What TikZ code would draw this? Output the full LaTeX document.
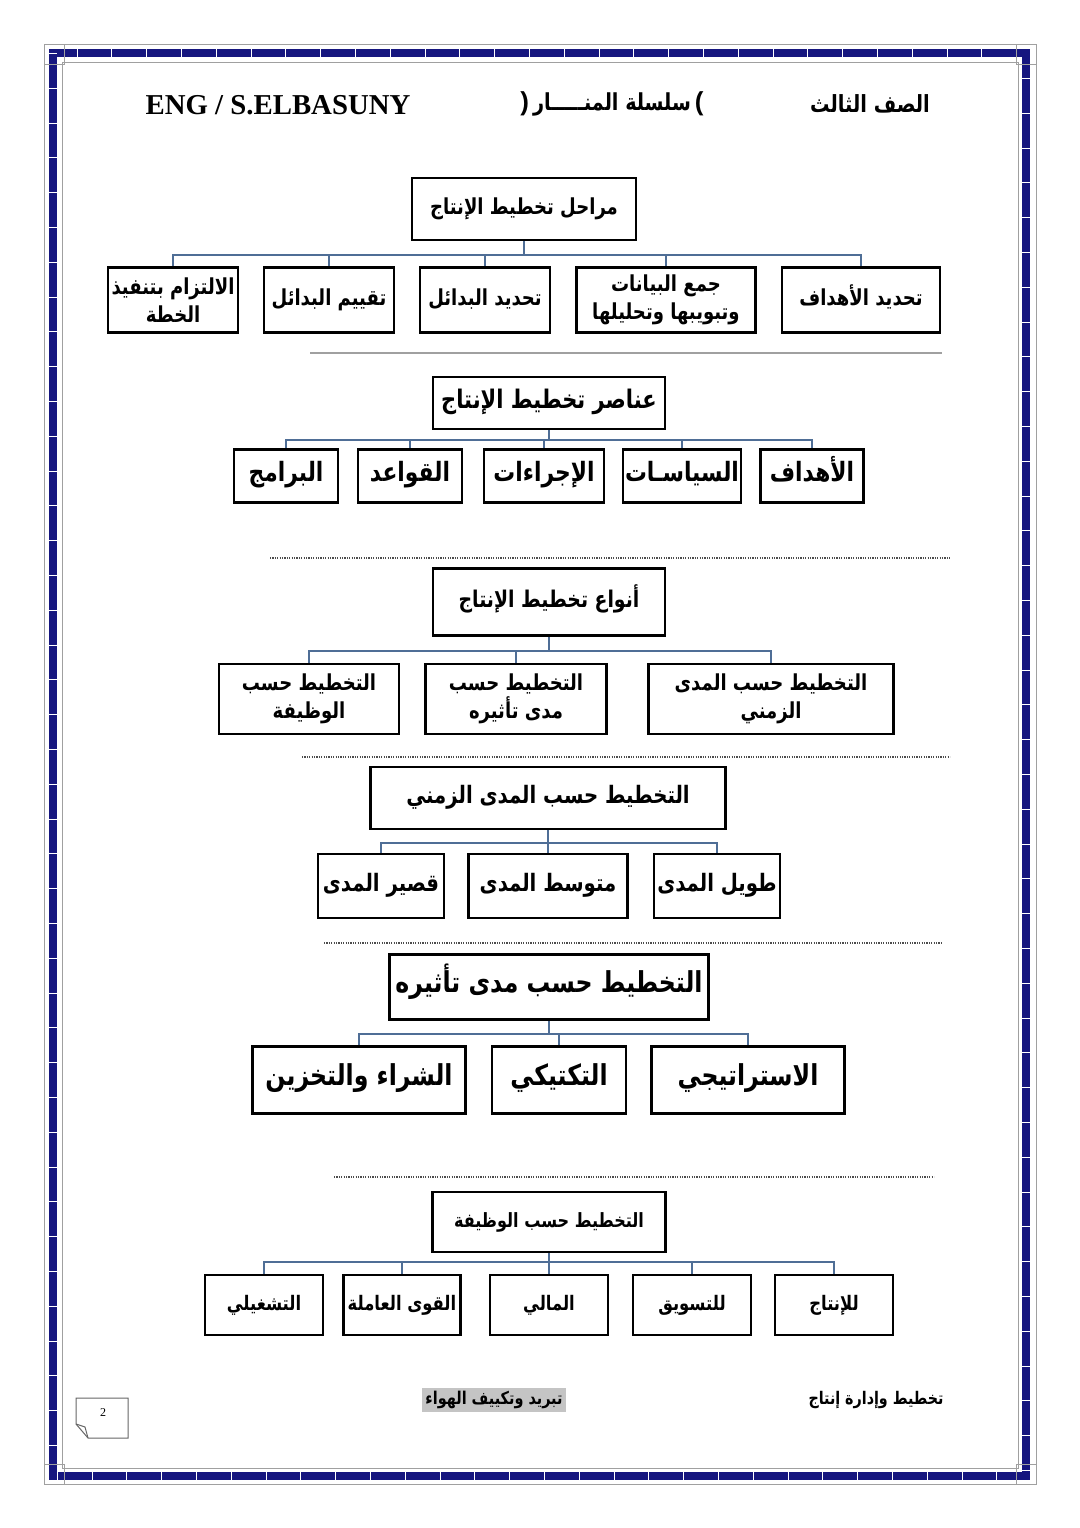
\documentclass[tikz,border=0pt]{standalone}
\usepackage{fontspec}
\setmainfont{Liberation Serif}
\setsansfont{Liberation Sans}
\newfontfamily\arabicfont[Script=Arabic, FakeStretch=0.82]{DejaVu Sans}
\TeXXeTstate=1
\usepackage{tikz}
\usetikzlibrary{positioning}
\definecolor{branch}{HTML}{4F6E96}
\definecolor{navy}  {HTML}{16167F}
\definecolor{rule}  {HTML}{A0A0A0}
\definecolor{shade} {HTML}{C4C4C4}
\newcommand\rtl[1]{\beginR#1\endR}

\begin{document}
\begin{tikzpicture}[
  % One unit is one pixel of the page scan (y runs down), so boxes are placed
  % straight from the page and their sizes are given in the same pixels.
  x=0.5pt, y=-0.5pt,
  sz/.style 2 args={minimum width=#1*0.5pt, minimum height=#2*0.5pt},
  % DejaVu's Arabic is wide next to the scan's face, hence the squeeze above.
  ar/.style={font=\arabicfont\bfseries\fontsize{#1}{1.3\dimexpr #1pt\relax}\selectfont},
  box/.style={draw, line width=1.4pt, fill=white, align=center, inner sep=1pt},
  % single-line boxes get a fixed text height, so a hamza does not push the
  % line down against its neighbours
  one/.style={box, text height=0.75em, text depth=0.25em},
  conn/.style={draw=branch, line width=1.4pt},
  sep/.style={line width=0.6pt, dash pattern=on 0.6pt off 0.6pt, color=black!70}
]
\useasboundingbox (0,0) rectangle (1080,1528);

% page frame
\draw[rule, line width=0.5pt] (44,44) rectangle (1036,1484);
\draw[navy, line width=4pt] (53,53) rectangle (1026,1476);
\draw[white, line width=4pt, dash pattern=on 0.4pt off 17pt] (53,53) rectangle (1026,1476);
\draw[rule, line width=0.5pt] (62,62) rectangle (1018,1468);
\foreach \cx/\cy in {44/44, 1016/44, 44/1464, 1016/1464}
  \draw[rule, line width=0.5pt] (\cx,\cy) rectangle ++(20,20);

% header
\node[font=\bfseries\fontsize{14.4}{16}\selectfont] (eng) at (278,105) {ENG / S.ELBASUNY};
\node[ar=11.7] (series) at (612,104)
  {{\sffamily\bfseries\fontsize{13}{14}\selectfont)}\,\rtl{سلسلة المنـــــار}\,{\sffamily\bfseries\fontsize{13}{14}\selectfont(}};
\node[ar=11.8] (grade) at (870,104) {\rtl{الصف الثالث}};

% stages
\node[one, ar=11, sz={224}{62}] (stg)  at (524,209) {\rtl{مراحل تخطيط الإنتاج}};
\node[box, ar=11, sz={130}{65}] (stg1) at (173,300) {\rtl{الالتزام بتنفيذ}\\\rtl{الخطة}};
\node[one, ar=11, sz={130}{65}] (stg2) at (329,300) {\rtl{تقييم البدائل}};
\node[one, ar=11, sz={130}{65}] (stg3) at (485,300) {\rtl{تحديد البدائل}};
\node[box, ar=11, sz={179}{65}] (stg4) at (666,300) {\rtl{جمع البيانات}\\\rtl{وتبويبها وتحليلها}};
\node[one, ar=11, sz={158}{65}] (stg5) at (861,300) {\rtl{تحديد الأهداف}};
\coordinate (stgj) at (524,255);
\draw[conn] (stg) -- (stgj);
\foreach \k in {1,...,5} \draw[conn] (stgj) -| (stg\k.north);

\draw[rule, line width=0.6pt] (310,353) -- (942,353);

% elements
\node[one, ar=12.8, sz={232}{52}] (elm)  at (549,403) {\rtl{عناصر تخطيط الإنتاج}};
\node[one, ar=13.3, sz={104}{53}] (elm1) at (286,476) {\rtl{البرامج}};
\node[one, ar=13.3, sz={104}{53}] (elm2) at (410,476) {\rtl{القواعد}};
\node[one, ar=13.3, sz={120}{53}] (elm3) at (544,476) {\rtl{الإجراءات}};
\node[one, ar=13.3, sz={116}{53}] (elm4) at (682,476) {\rtl{السياسـات}};
\node[one, ar=13.3, sz={103}{53}] (elm5) at (812,476) {\rtl{الأهداف}};
\coordinate (elmj) at (549,440);
\draw[conn] (elm) -- (elmj);
\foreach \k in {1,...,5} \draw[conn] (elmj) -| (elm\k.north);

\draw[sep] (270,558) -- (950,558);

% types
\node[one, ar=11.5, sz={232}{67}] (typ)  at (549,602) {\rtl{أنواع تخطيط الإنتاج}};
\node[box, ar=11, sz={180}{70}] (typ1) at (309,699) {\rtl{التخطيط حسب}\\\rtl{الوظيفة}};
\node[box, ar=11, sz={181}{70}] (typ2) at (516,699) {\rtl{التخطيط حسب}\\\rtl{مدى تأثيره}};
\node[box, ar=11, sz={245}{70}] (typ3) at (771,699) {\rtl{التخطيط حسب المدى}\\\rtl{الزمني}};
\coordinate (typj) at (549,651);
\draw[conn] (typ) -- (typj);
\foreach \k in {1,...,3} \draw[conn] (typj) -| (typ\k.north);

\draw[sep] (302,757) -- (950,757);

% by time span
\node[one, ar=12, sz={355}{62}] (tim)  at (548,798) {\rtl{التخطيط حسب المدى الزمني}};
\node[one, ar=12, sz={126}{64}] (tim1) at (381,886) {\rtl{قصير المدى}};
\node[one, ar=12, sz={159}{64}] (tim2) at (548,886) {\rtl{متوسط المدى}};
\node[one, ar=12, sz={126}{64}] (tim3) at (717,886) {\rtl{طويل المدى}};
\coordinate (timj) at (548,843);
\draw[conn] (tim) -- (timj);
\foreach \k in {1,...,3} \draw[conn] (timj) -| (tim\k.north);

\draw[sep] (324,943) -- (941,943);

% by impact
\node[one, ar=14.4, sz={319}{65}] (imp)  at (549,987) {\rtl{التخطيط حسب مدى تأثيره}};
\node[one, ar=14.4, sz={213}{67}] (imp1) at (359,1080) {\rtl{الشراء والتخزين}};
\node[one, ar=14.4, sz={134}{67}] (imp2) at (559,1080) {\rtl{التكتيكي}};
\node[one, ar=14.4, sz={193}{67}] (imp3) at (748,1080) {\rtl{الاستراتيجي}};
\coordinate (impj) at (549,1034);
\draw[conn] (imp) -- (impj);
\foreach \k in {1,...,3} \draw[conn] (impj) -| (imp\k.north);

\draw[sep] (334,1177) -- (934,1177);

% by function
\node[one, ar=9.8, sz={233}{60}] (fun)  at (549,1222) {\rtl{التخطيط حسب الوظيفة}};
\node[one, ar=10, sz={118}{60}] (fun1) at (264,1305) {\rtl{التشغيلي}};
\node[one, ar=10, sz={117}{60}] (fun2) at (402,1305) {\rtl{القوى العاملة}};
\node[one, ar=10, sz={118}{60}] (fun3) at (549,1305) {\rtl{المالي}};
\node[one, ar=10, sz={118}{60}] (fun4) at (692,1305) {\rtl{للتسويق}};
\node[one, ar=10, sz={118}{60}] (fun5) at (834,1305) {\rtl{للإنتاج}};
\coordinate (funj) at (549,1262);
\draw[conn] (fun) -- (funj);
\foreach \k in {1,...,5} \draw[conn] (funj) -| (fun\k.north);

% footer
\node[ar=8.7] (subj) at (876,1400) {\rtl{تخطيط وإدارة إنتاج}};
\node[ar=8.8, fill=shade, inner sep=1.5pt] (dept) at (494,1400) {\rtl{تبريد وتكييف الهواء}};
\draw[black!60, line width=0.5pt] (76,1398) -- (128,1398) -- (128,1438) -- (88,1438) -- (76,1424) -- cycle;
\draw[black!60, line width=0.5pt] (76,1424) -- (85,1427) -- (88,1438);
\node[font=\fontsize{6}{7}\selectfont] (pgno) at (103,1413) {2};

\end{tikzpicture}
\end{document}
